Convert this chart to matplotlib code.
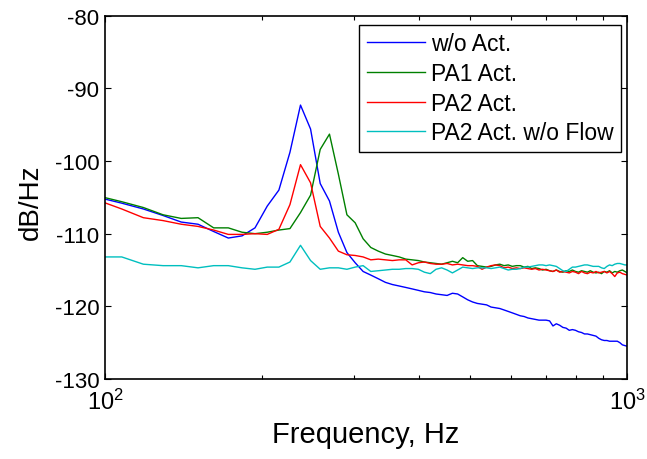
import numpy as np
import matplotlib
matplotlib.use("Agg")
import matplotlib.pyplot as plt
from matplotlib.ticker import FixedLocator, NullFormatter

plt.rcParams['font.family'] = ['Liberation Sans', 'DejaVu Sans']
plt.rcParams['mathtext.fontset'] = 'custom'
plt.rcParams['mathtext.rm'] = 'Liberation Sans'
plt.rcParams['mathtext.it'] = 'Liberation Sans'
plt.rcParams['mathtext.default'] = 'regular'
plt.rcParams['axes.unicode_minus'] = False

# FFT bin indices (bin width ~10.77 Hz)
bin_index = np.arange(9, 94)
bin_width = 10.7666
freq = bin_index * bin_width

wo_act = [
    -105.0, -105.8, -106.6, -107.5, -108.4, -108.7, -109.7, -110.6, -110.3, -109.2,
    -106.2, -104.0, -98.8, -92.3, -95.6, -103.1, -105.5, -109.8, -112.6, -114.0,
    -115.2, -115.7,
    -116.2, -116.7, -117.0, -117.2, -117.4, -117.6, -117.8, -118.0, -118.1, -118.3,
    -118.4, -118.5, -118.2, -118.3, -118.7, -119.1, -119.4, -119.6, -119.7, -119.8,
    -120.1, -120.2, -120.3, -120.5, -120.7, -120.9, -121.1, -121.3, -121.4, -121.6,
    -121.7, -121.8, -121.9, -121.9, -121.9, -122.0, -122.7, -122.4, -122.6, -122.9,
    -123.0, -123.3, -123.2, -123.3, -123.5, -123.6, -123.8, -123.8, -123.9, -124.0,
    -124.1, -124.4, -124.6, -124.7, -124.7, -124.8, -124.8, -124.8, -124.8, -125.0,
    -125.3, -125.4, -125.5,
]
pa1_act = [
    -104.8, -105.6, -106.4, -107.4, -107.9, -107.8, -109.2, -109.2, -109.8, -110.0,
    -109.8, -109.5, -109.3, -107.1, -104.7, -98.4, -96.3, -101.8, -107.4, -108.5,
    -110.7, -111.9,
    -112.4, -112.8, -113.0, -113.2, -113.5, -113.6, -113.7, -113.9, -114.0, -114.1,
    -114.2, -114.0, -113.8, -114.0, -113.3, -113.8, -113.7, -114.4, -114.5, -114.6,
    -114.5, -114.3, -114.2, -114.4, -114.3, -114.5, -114.4, -114.4, -114.6, -114.5,
    -114.8, -114.7, -114.8, -115.0, -114.9, -115.1, -115.2, -115.0, -115.2, -115.3,
    -115.1, -115.2, -115.0, -115.2, -115.3, -115.1, -115.2, -115.3, -115.1, -115.3,
    -115.4, -115.3, -115.5, -115.2, -115.3, -115.1, -115.4, -115.2, -115.3, -115.1,
    -115.0, -115.2, -115.4,
]
pa2_act = [
    -105.4, -106.6, -107.8, -108.2, -108.7, -109.0, -109.5, -110.1, -110.1, -110.0,
    -110.1, -109.4, -106.0, -100.5, -103.0, -109.0, -110.6, -112.4, -112.9, -113.0,
    -113.2, -113.6,
    -113.5, -113.6, -113.7, -113.6, -113.6, -114.3, -114.0, -113.9, -114.1, -114.2,
    -114.2, -114.1, -114.3, -114.2, -114.3, -114.4, -114.4, -114.5, -114.9, -114.6,
    -114.4, -114.3, -114.4, -114.7, -114.6, -114.8, -114.7, -114.8, -114.7, -114.8,
    -114.9, -114.8, -115.0, -114.9, -115.0, -115.1, -115.2, -115.0, -115.3, -115.2,
    -115.3, -115.4, -115.2, -115.3, -115.5, -115.2, -115.4, -115.5, -115.3, -115.4,
    -115.2, -115.4, -115.3, -115.2, -115.4, -115.2, -115.5, -115.9, -115.4, -115.3,
    -115.5, -115.6, -115.7,
]
pa2_noflow = [
    -113.2, -113.2, -114.2, -114.4, -114.4, -114.7, -114.4, -114.4, -114.7, -114.9,
    -114.6, -114.6, -113.9, -111.6, -113.7, -114.9, -114.7, -114.7, -114.9, -114.6,
    -114.4, -115.2,
    -115.1, -115.0, -114.9, -114.9, -114.8, -114.8, -114.9, -115.3, -115.5, -114.9,
    -114.7, -115.0, -115.4, -115.0, -114.6, -114.7, -114.8, -114.7, -114.7, -114.7,
    -114.8, -114.7, -114.6, -114.8, -115.0, -114.9, -114.9, -114.8, -114.6, -114.6,
    -114.5, -114.4, -114.3, -114.3, -114.4, -114.3, -114.4, -114.5, -114.8, -115.1,
    -115.2, -114.9, -114.6, -114.6, -114.5, -114.4, -114.3, -114.3, -114.4, -114.5,
    -114.5, -114.5, -114.7, -114.8, -114.5, -114.3, -114.4, -114.2, -114.1, -114.1,
    -114.2, -114.3, -114.3,
]

series_labels = ['w/o Act.', 'PA1 Act.', 'PA2 Act.', 'PA2 Act. w/o Flow']
series_colors = ['#0000ff', '#008000', '#ff0000', '#00bfbf']
y_ticks = [-130, -120, -110, -100, -90, -80]
x_ticks = [100, 1000]
x_tick_labels = [r'$10^{2}$', r'$10^{3}$']

fig = plt.figure(figsize=(6.47, 4.60), dpi=100)
ax = fig.add_axes([105/647, 1-380/460, (627-105)/647, (380-16.7)/460])

for vals, lab, col in zip([wo_act, pa1_act, pa2_act, pa2_noflow], series_labels, series_colors):
    ax.plot(freq, vals, color=col, lw=1.0, label=lab)

ax.set_xscale('log')
ax.set_xlim(100, 1000)
ax.set_ylim(-130, -80)
ax.xaxis.set_major_locator(FixedLocator(x_ticks))
ax.set_xticklabels(x_tick_labels)
ax.xaxis.set_minor_locator(FixedLocator([200, 300, 400, 500, 600, 700, 800, 900]))
ax.xaxis.set_minor_formatter(NullFormatter())
ax.set_yticks(y_ticks)
ax.set_yticklabels([str(v) for v in y_ticks])

ax.tick_params(which='both', direction='in', top=True, right=True, width=0.8, colors='black')
ax.tick_params(which='major', length=4)
ax.tick_params(which='minor', length=3)
ax.tick_params(axis='x', which='major', labelsize=17, pad=7)
ax.tick_params(axis='y', which='major', labelsize=16, pad=4)
for s in ax.spines.values():
    s.set_linewidth(1.2)
    s.set_color('black')

ax.set_xlabel('Frequency, Hz', fontsize=21)
ax.xaxis.set_label_coords(0.5, -0.112)
ax.set_ylabel('dB/Hz', fontsize=20)
ax.yaxis.set_label_coords(-0.117, 0.49)

leg = ax.legend(loc='upper right', bbox_to_anchor=(621/647, 1-26/460),
                bbox_transform=fig.transFigure, borderaxespad=0,
                fontsize=16.5, handlelength=2.55, handletextpad=0.26,
                labelspacing=0.29, borderpad=0.32, fancybox=False,
                framealpha=1, edgecolor='black')
leg.get_frame().set_linewidth(1.0)

fig.savefig('out.png', dpi=100)
